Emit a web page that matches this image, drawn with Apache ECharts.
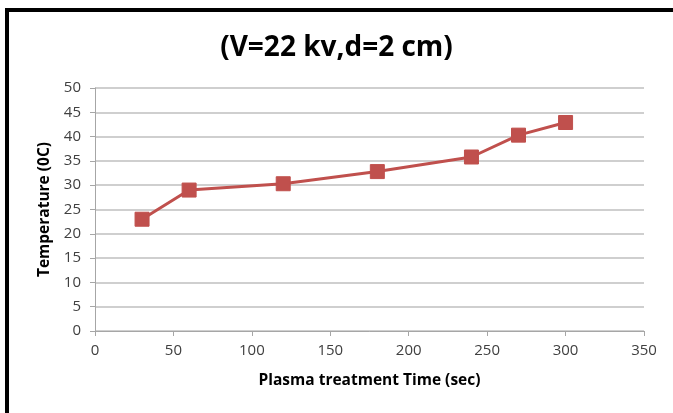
<!DOCTYPE html>
<html>
<head>
<meta charset="utf-8">
<script src="https://cdn.jsdelivr.net/npm/echarts@6/dist/echarts.min.js"></script>
<style>
  html, body { margin: 0; padding: 0; background: #fff; }
  #chart { width: 673px; height: 413px; }
</style>
</head>
<body>
<div id="chart"></div>
<script>
// plasma treatment time (sec) and temperature
var times = [30, 60, 120, 180, 240, 270, 300]
var temps = [23, 29, 30.3, 32.8, 35.8, 40.3, 42.9]

var font = '"Open Sans", "Liberation Sans", sans-serif'
var red = '#C0504D'

var chart = echarts.init(document.getElementById('chart'))
chart.setOption({
  backgroundColor: '#fff',
  animation: false,
  title: {
    text: '(V=22 kv,d=2 cm)',
    left: 'center',
    top: 29,
    textStyle: {
      fontFamily: font,
      fontSize: 28,
      fontWeight: 'bold',
      color: '#000'
    }
  },
  graphic: [
    // black frame on top and left edges
    { type: 'rect', shape: { x: 5, y: 8, width: 668, height: 4 }, style: { fill: '#000' } },
    { type: 'rect', shape: { x: 5, y: 8, width: 4, height: 405 }, style: { fill: '#000' } }
  ],
  grid: {
    left: 95,
    right: 29,
    top: 88,
    bottom: 82
  },
  xAxis: {
    type: 'value',
    min: 0,
    max: 350,
    interval: 50,
    name: 'Plasma treatment Time (sec)',
    nameLocation: 'middle',
    nameGap: 42,
    nameTextStyle: { fontFamily: font, fontSize: 15.5, fontWeight: 'bold', color: '#000' },
    axisLine: { show: true, lineStyle: { color: '#A6A6A6', width: 1 } },
    axisTick: { show: true, length: 5, lineStyle: { color: '#A6A6A6' } },
    axisLabel: { fontFamily: font, fontSize: 15, color: '#404040', margin: 12 },
    splitLine: { show: false }
  },
  yAxis: {
    type: 'value',
    min: 0,
    max: 50,
    interval: 5,
    name: 'Temperature (0C)',
    nameLocation: 'middle',
    nameGap: 42,
    nameTextStyle: { fontFamily: font, fontSize: 15.5, fontWeight: 'bold', color: '#000' },
    axisLine: { show: true, lineStyle: { color: '#A6A6A6', width: 1 } },
    axisTick: { show: true, length: 5, lineStyle: { color: '#A6A6A6' } },
    axisLabel: { fontFamily: font, fontSize: 15, color: '#404040', margin: 14 },
    splitLine: { show: true, lineStyle: { color: '#BFBFBF', width: 1.5 } }
  },
  series: [{
    type: 'line',
    data: times.map(function (t, i) { return [t, temps[i]] }),
    symbol: 'rect',
    symbolSize: 14,
    lineStyle: { color: red, width: 3 },
    itemStyle: { color: red, borderColor: red }
  }]
})
</script>
</body>
</html>
